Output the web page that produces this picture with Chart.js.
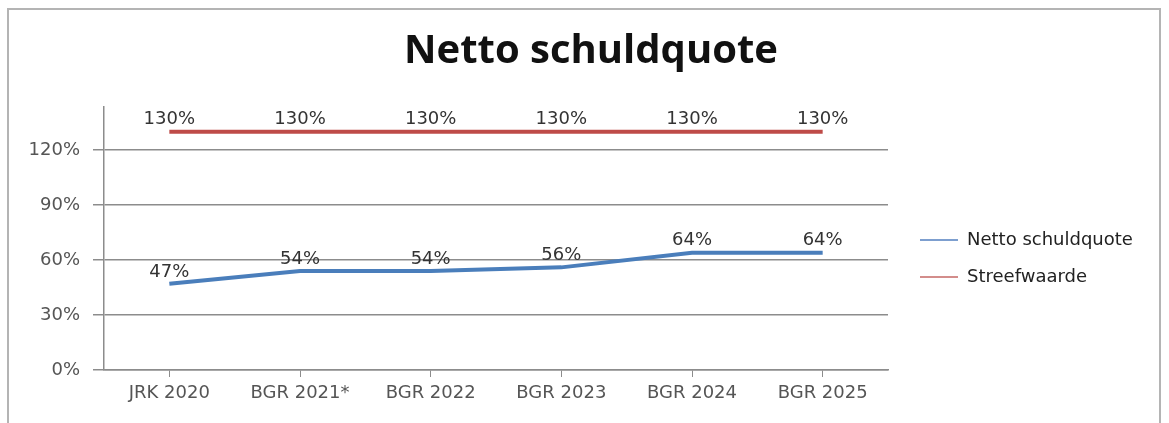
<!DOCTYPE html>
<html>
<head>
<meta charset="utf-8">
<script src="https://cdn.jsdelivr.net/npm/chart.js@4.4.0/dist/chart.umd.min.js"></script>
<style>
  html, body { margin: 0; padding: 0; background: #fff; overflow: hidden; }
  #frame { position: absolute; left: 7px; top: 8px; width: 1154px; height: 430px; border: 2px solid #b4b4b4; box-sizing: border-box; }
  #wrap { position: absolute; left: 0; top: 0; width: 1169px; height: 423px; }
</style>
</head>
<body>
<div id="frame"></div>
<div id="wrap"><canvas id="chart" width="1169" height="423"></canvas></div>
<script>
// chart data
const categories = ['JRK 2020', 'BGR 2021*', 'BGR 2022', 'BGR 2023', 'BGR 2024', 'BGR 2025'];
const nettoSchuldquote = [47, 54, 54, 56, 64, 64];
const streefwaarde = [130, 130, 130, 130, 130, 130];
const yTicks = [0, 30, 60, 90, 120];

const labelFont = '18px "DejaVu Sans"';

// value labels above each point
const valueLabels = {
    id: 'valueLabels',
    afterDatasetsDraw(chart) {
        const ctx = chart.ctx;
        ctx.save();
        ctx.font = labelFont;
        ctx.fillStyle = '#333333';
        ctx.textAlign = 'center';
        ctx.textBaseline = 'middle';
        chart.data.datasets.forEach((ds, i) => {
            chart.getDatasetMeta(i).data.forEach((pt, j) => {
                ctx.fillText(ds.data[j] + '%', pt.x, pt.y - 12);
            });
        });
        ctx.restore();
    }
};

// legend on the right, like the Excel one
const sideLegend = {
    id: 'sideLegend',
    afterDraw(chart) {
        const ctx = chart.ctx;
        const x = chart.chartArea.right + 32;
        ctx.save();
        ctx.font = labelFont;
        ctx.textBaseline = 'middle';
        chart.data.datasets.forEach((ds, i) => {
            const y = 240 + i * 37;
            ctx.strokeStyle = ds.legendColor;
            ctx.lineWidth = 2;
            ctx.beginPath();
            ctx.moveTo(x, y);
            ctx.lineTo(x + 38, y);
            ctx.stroke();
            ctx.fillStyle = '#222222';
            ctx.fillText(ds.label, x + 47, y);
        });
        ctx.restore();
    }
};

new Chart(document.getElementById('chart'), {
    type: 'line',
    data: {
        labels: categories,
        datasets: [{
            label: 'Netto schuldquote',
            data: nettoSchuldquote,
            borderColor: '#4a7ebb',
            legendColor: '#7d9fcf',
            borderWidth: 4,
            pointRadius: 0,
            tension: 0
        }, {
            label: 'Streefwaarde',
            data: streefwaarde,
            borderColor: '#be4b48',
            legendColor: '#d38d8b',
            borderWidth: 4,
            pointRadius: 0,
            tension: 0
        }]
    },
    options: {
        responsive: false,
        animation: false,
        layout: { padding: { left: 13, right: 0, top: 0, bottom: 0 } },
        plugins: {
            legend: { display: false },
            tooltip: { enabled: false },
            title: {
                display: true,
                text: 'Netto schuldquote',
                color: '#111111',
                font: { family: '"Open Sans"', size: 40, weight: 'bold', lineHeight: 1.2 },
                padding: { top: 28, bottom: 31 }
            }
        },
        scales: {
            x: {
                offset: true,
                grid: { offset: false, drawOnChartArea: false, drawTicks: true, tickLength: 7, color: '#8c8c8c' },
                border: { color: '#8c8c8c', width: 1.5 },
                ticks: { color: '#555555', font: { family: '"DejaVu Sans"', size: 18 }, padding: 6, maxRotation: 0 },
                afterFit: s => { s.height = 53; }
            },
            y: {
                min: 0,
                max: 143.5,
                afterBuildTicks: s => { s.ticks = yTicks.map(v => ({ value: v })); },
                grid: { color: '#8c8c8c', lineWidth: 1.5, tickLength: 11 },
                border: { color: '#8c8c8c', width: 1.5 },
                ticks: { color: '#555555', font: { family: '"DejaVu Sans"', size: 18 }, padding: 13, callback: v => v + '%' },
                afterFit: s => { s.width = 91; }
            },
            side: {
                position: 'right',
                display: true,
                grid: { display: false },
                border: { display: false },
                ticks: { display: false },
                afterFit: s => { s.width = 281; }
            }
        }
    },
    plugins: [valueLabels, sideLegend]
});
</script>
</body>
</html>
